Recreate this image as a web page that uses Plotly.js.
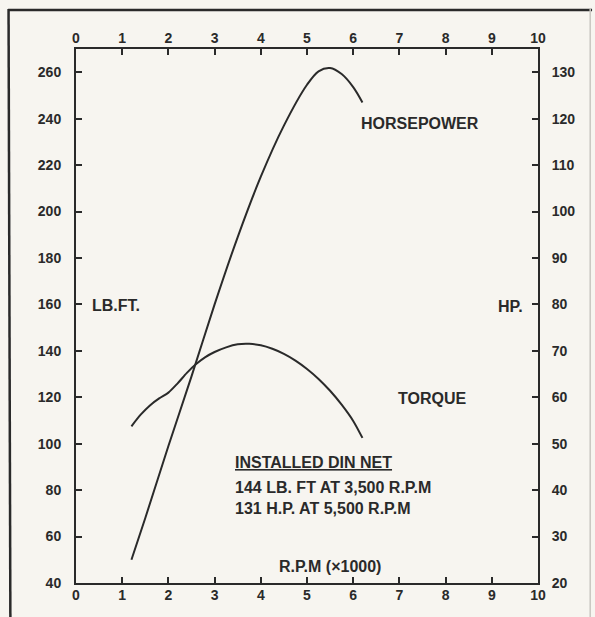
<!DOCTYPE html>
<html>
<head>
<meta charset="utf-8">
<script src="https://cdn.plot.ly/plotly-3.0.1.min.js"></script>
<style>
  html, body { margin: 0; padding: 0; background: #f6f4ee; }
  #chart { width: 595px; height: 617px; }
</style>
</head>
<body>
<div id="chart"></div>
<script>
// RPM (x1000)
const hpRpm = [1.2, 1.5, 2.0, 2.5, 3.0, 3.5, 4.0, 4.5, 5.0, 5.25, 5.5, 5.75, 6.0, 6.2];
const hpValues = [25, 34, 49.5, 64.5, 80, 94.5, 107.5, 118.5, 127.3, 130.2, 130.9, 129.6, 126.8, 123.5];

const torqueRpm = [1.2, 1.4, 1.6, 1.8, 2.0, 2.2, 2.4, 2.6, 2.8, 3.0, 3.25, 3.5, 3.75, 4.0, 4.25, 4.5, 4.75, 5.0, 5.25, 5.5, 5.75, 6.0, 6.2];
const torqueValues = [107.5, 112.5, 116.5, 119.5, 122, 126, 130.5, 134.3, 137.3, 139.5, 141.5, 142.8, 143, 142.4, 140.9, 138.7, 135.8, 132.2, 127.9, 122.8, 116.8, 109.8, 102.5];

const rpmTicks = [0, 1, 2, 3, 4, 5, 6, 7, 8, 9, 10];
const lbftTicks = [40, 60, 80, 100, 120, 140, 160, 180, 200, 220, 240, 260];
const hpTicks = [20, 30, 40, 50, 60, 70, 80, 90, 100, 110, 120, 130];

const INK = '#2a2a2a';
const FONT = 'Liberation Sans, Arial, Helvetica, sans-serif';

const traces = [
  { x: torqueRpm, y: torqueValues, xaxis: 'x', yaxis: 'y', type: 'scatter', mode: 'lines',
    line: { color: INK, width: 2, shape: 'spline', smoothing: 0.8 }, hoverinfo: 'skip' },
  { x: hpRpm, y: hpValues, xaxis: 'x2', yaxis: 'y2', type: 'scatter', mode: 'lines',
    line: { color: INK, width: 2, shape: 'spline', smoothing: 0.9 }, hoverinfo: 'skip' }
];

const tickFont = { family: FONT, size: 14, color: INK, weight: 'bold' };
const axCommon = { showgrid: false, zeroline: false, showline: true, linecolor: INK, linewidth: 2,
  ticks: 'inside', ticklen: 6, tickwidth: 2, tickcolor: INK, tickfont: tickFont, fixedrange: true };

const txtFont = { family: FONT, size: 16, color: INK, weight: 'bold' };
function ann(text, x, y, xanchor) {
  return { text: text, x: x, y: y, xref: 'x', yref: 'y', xanchor: xanchor || 'center', yanchor: 'middle',
    showarrow: false, font: txtFont };
}

const layout = {
  width: 595, height: 617,
  margin: { l: 76, r: 57, t: 49, b: 34 },
  paper_bgcolor: '#f7f5f0', plot_bgcolor: '#f7f5f0',
  showlegend: false,
  xaxis: Object.assign({}, axCommon, { range: [0, 10], tickvals: rpmTicks, side: 'bottom', ticklabelstandoff: -2 }),
  xaxis2: Object.assign({}, axCommon, { range: [0, 10], tickvals: rpmTicks, side: 'top', overlaying: 'x', ticklabelstandoff: -2 }),
  yaxis: Object.assign({}, axCommon, { range: [40, 270], tickvals: lbftTicks, side: 'left', ticklabelstandoff: 10 }),
  yaxis2: Object.assign({}, axCommon, { range: [20, 135], tickvals: hpTicks, side: 'right', overlaying: 'y', ticklabelstandoff: 9 }),
  annotations: [
    ann('HORSEPOWER', 7.45, 237.7),
    ann('TORQUE', 7.71, 119.3),
    ann('LB.FT.', 0.30, 159.7, 'left'),
    ann('HP.', 9.72, 158.9, 'right'),
    ann('<span style="text-decoration:underline">INSTALLED DIN NET</span>', 3.40, 91.7, 'left'),
    ann('144 LB. FT AT 3,500 R.P.M', 3.40, 81.3, 'left'),
    ann('131 H.P. AT 5,500 R.P.M', 3.40, 71.9, 'left'),
    ann('R.P.M (×1000)', 5.5, 46.9)
  ],
  shapes: [
    { type: 'line', xref: 'paper', yref: 'paper', x0: -0.147, x1: 1.117, y0: 1.073, y1: 1.073, line: { color: INK, width: 2.5 } },
    { type: 'line', xref: 'paper', yref: 'paper', x0: -0.146, x1: -0.142, y0: 1.075, y1: -0.08, line: { color: INK, width: 2.5 } },
    { type: 'line', xref: 'paper', yref: 'paper', x0: 1.113, x1: 1.113, y0: 1.075, y1: -0.08, line: { color: '#c9c7c0', width: 1.5 } }
  ]
};

Plotly.newPlot('chart', traces, layout, { staticPlot: true, displayModeBar: false });
</script>
</body>
</html>
